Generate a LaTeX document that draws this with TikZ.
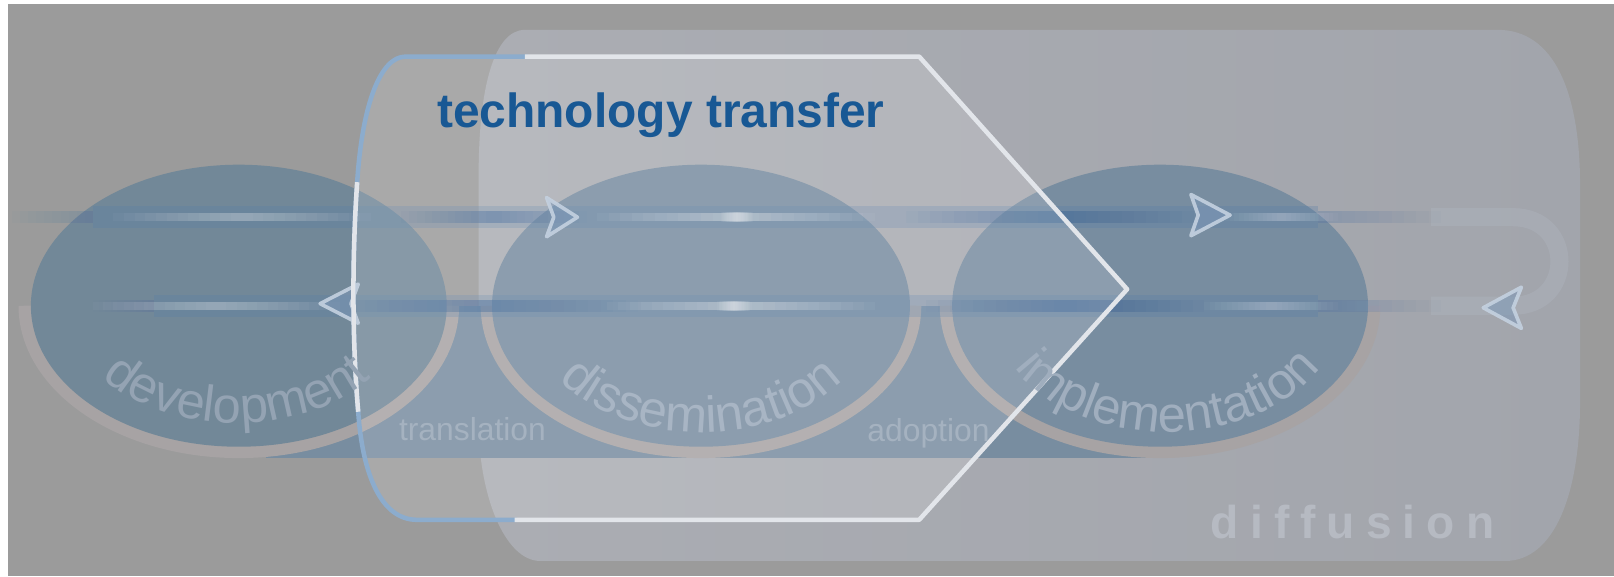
\documentclass[tikz,border=0pt]{standalone}
\usepackage{fontspec}
\setmainfont{Liberation Sans}
\usetikzlibrary{decorations.text}
\definecolor{bgc}{RGB}{155,155,155}
\definecolor{diffL}{RGB}{171,173,179}
\definecolor{diffR}{RGB}{162,165,172}
\definecolor{ellA}{RGB}{114,136,152}
\definecolor{ellB}{RGB}{120,141,160}
\definecolor{ringc}{RGB}{167,163,164}
\definecolor{streakc}{RGB}{85,125,170}
\definecolor{streaklight}{RGB}{182,190,202}
\definecolor{darkstreak}{RGB}{65,105,155}
\definecolor{ttblue}{RGB}{24,88,148}
\definecolor{outblue}{RGB}{140,172,205}
\definecolor{outwhite}{RGB}{226,229,234}
\definecolor{devc}{RGB}{148,163,179}
\definecolor{disc}{RGB}{168,181,196}
\definecolor{impc}{RGB}{160,174,190}
\definecolor{labc}{RGB}{165,178,192}
\definecolor{difftext}{RGB}{182,186,194}
\definecolor{arrfill}{RGB}{125,152,184}
\definecolor{arrline}{RGB}{196,209,224}
\newcommand\titlefont{\fontsize{26.5pt}{30pt}\selectfont\bfseries}
\newcommand\curvefont{\fontsize{28pt}{30pt}\selectfont}
\newcommand\labfont{\fontsize{17.6pt}{20pt}\selectfont}
\newcommand\difffont{\fontsize{25.5pt}{28pt}\selectfont\bfseries}
\newcommand\lsp{\kern0.24em}
% glow: x1, x2, y, half height, colour, total opacity (soft both ends)
\newcommand\glow[6]{%
  \pgfmathsetmacro\gop{#6/9}%
  \foreach \k in {0,...,11}{%
    \pgfmathsetmacro\ga{#1+(#2-#1)*\k/24}%
    \pgfmathsetmacro\gb{#2-(#2-#1)*\k/24}%
    \fill[#5, opacity=\gop] (\ga,#3+#4) rectangle (\gb,#3-#4);}}
% ramp in from the left: x1, x2, y, half height, colour, opacity of each layer
\newcommand\rampin[6]{%
  \foreach \k in {0,...,9}{%
    \pgfmathsetmacro\ga{#1+(#2-#1)*\k/10}%
    \fill[#5, opacity=#6] (\ga,#3+#4) rectangle (#2,#3-#4);}}
% ramp out to the right
\newcommand\rampout[6]{%
  \foreach \k in {0,...,9}{%
    \pgfmathsetmacro\gb{#2-(#2-#1)*\k/10}%
    \fill[#5, opacity=#6] (#1,#3+#4) rectangle (\gb,#3-#4);}}
\tikzset{
  ring/.style={ringc, line width=8},
  streakbase/.style={streakc, opacity=.27},
  dart/.style={fill=arrfill, fill opacity=.55, draw=arrline, draw opacity=.9, line width=2, line join=round},
  ttwhite/.style={outwhite, line width=2.5, line join=round},
  ttblueline/.style={outblue, line width=2.5},
  curvetext/.style={decorate, decoration={text along path, text align=center, text color=#1}}
}
\begin{document}
\begin{tikzpicture}[x=0.02cm,y=0.02cm]
\useasboundingbox (0,0) rectangle (1568,-560);
\fill[white] (0,0) rectangle (1568,-560);
\fill[bgc] (8,-4) rectangle (1568,-560);
% diffusion
\shade[left color=diffL, right color=diffR] (510,-29) -- (1455,-29) .. controls (1510,-29) and (1535,-90) .. (1535,-180) -- (1535,-390) .. controls (1535,-480) and (1510,-545) .. (1462,-545) -- (525,-545) .. controls (490,-545) and (465,-480) .. (465,-410) -- (465,-170) .. controls (465,-85) and (480,-29) .. (510,-29) -- cycle;
% band
\fill[ellB] (258,-297) rectangle (1120,-445);
% rings
\foreach \cx in {232,681,1127}
  \draw[ring] (\cx,-297) ++(180:207 and 141) arc[start angle=180, end angle=360, x radius=207, y radius=141];
% ellipses
\fill[ellA] (232,-297) ellipse[x radius=202, y radius=137];
\fill[ellB] (681,-297) ellipse[x radius=203, y radius=137];
\fill[ellB] (1127,-297) ellipse[x radius=202, y radius=137];
% streaks
\rampin{1300}{1390}{-211}{5}{streaklight}{.03}
\rampin{1300}{1390}{-297}{5}{streaklight}{.03}
\draw[streaklight, opacity=.26, line width=10] (1390,-211) -- (1470,-211) .. controls (1530,-211) and (1530,-297) .. (1470,-297) -- (1390,-297);
\rampin{12}{90}{-211}{6}{streakc}{.032}
\rampin{90}{150}{-297}{6}{streakc}{.032}
\draw[streakbase, line width=12] (90,-211) -- (1280,-211);
\draw[streakbase, line width=12] (150,-297) -- (1280,-297);
\rampout{1280}{1400}{-211}{6}{streakc}{.032}
\rampout{1280}{1400}{-297}{6}{streakc}{.032}
\glow{390}{570}{-211}{6}{darkstreak}{.45}
\glow{880}{1160}{-211}{6}{darkstreak}{.45}
\glow{330}{620}{-297}{6}{darkstreak}{.5}
\glow{900}{1170}{-297}{6}{darkstreak}{.6}
\glow{110}{360}{-211}{4}{white}{.3}
\glow{580}{850}{-211}{4}{white}{.35}
\glow{1190}{1300}{-211}{4}{white}{.25}
\glow{90}{330}{-297}{4}{white}{.3}
\glow{590}{850}{-297}{4}{white}{.35}
\glow{1170}{1300}{-297}{4}{white}{.25}
\glow{700}{732}{-211}{5}{white}{.4}
\glow{697}{729}{-297}{5}{white}{.4}
% technology transfer overlay
\fill[white, opacity=.15] (513,-55) -- (893,-55) -- (1095,-281) -- (893,-505) -- (405,-505) .. controls (370,-505) and (352,-460) .. (348,-400) .. controls (342,-330) and (342,-250) .. (347,-177) .. controls (352,-100) and (370,-55) .. (394,-55) -- cycle;
% arrowheads
\filldraw[dart] (561,-211) -- (531,-192) -- (538,-211) -- (531,-230) -- cycle;
\filldraw[dart] (1195,-209) -- (1157,-189) -- (1164,-209) -- (1157,-229) -- cycle;
\filldraw[dart] (311,-295) -- (348,-276) -- (341,-295) -- (348,-314) -- cycle;
\filldraw[dart] (1441,-299) -- (1478,-279) -- (1470,-299) -- (1478,-319) -- cycle;
% technology transfer outline
\draw[ttblueline] (513,-55) -- (394,-55) .. controls (370,-55) and (352,-100) .. (347,-177) .. controls (342,-250) and (342,-330) .. (348,-400) .. controls (352,-460) and (370,-505) .. (405,-505) -- (502,-505);
\draw[ttwhite] (510,-55) -- (893,-55) -- (1095,-281) -- (893,-505) -- (500,-505);
\draw[ttwhite] (347,-177) .. controls (342,-250) and (342,-330) .. (348,-400);
% texts
\node[anchor=base, text=ttblue, font=\titlefont, inner sep=0] (tt) at (642,-123.5) {technology transfer};
\node[anchor=base, text=labc, font=\labfont, inner sep=0] (tr) at (459,-427.5) {translation};
\node[anchor=base, text=labc, font=\labfont, inner sep=0] (ad) at (902,-429) {adoption};
\node[anchor=base, text=difftext, font=\difffont, inner sep=0] (df) at (1314,-523) {d\lsp i\lsp f\lsp f\lsp u\lsp s\lsp i\lsp o\lsp n};
\path[curvetext=devc, decoration={text={|\curvefont|development}}] (230,-297) ++(200:165 and 114) arc[start angle=200, end angle=340, x radius=165, y radius=114];
\path[curvetext=disc, decoration={text={|\curvefont|dissemination}}] (681,-297) ++(200:170 and 123) arc[start angle=200, end angle=340, x radius=170, y radius=123];
\path[curvetext=impc, decoration={text={|\curvefont|implementation}}] (1134,-297) ++(200:170 and 123) arc[start angle=200, end angle=340, x radius=170, y radius=123];
\end{tikzpicture}
\end{document}
